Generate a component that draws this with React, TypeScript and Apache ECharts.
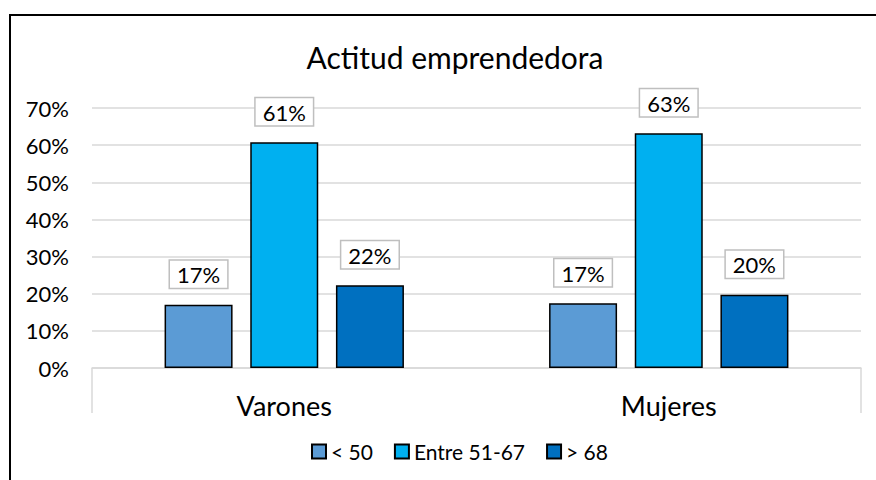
import React, { useEffect, useRef } from "react";
import * as echarts from "echarts";

const title = "Actitud emprendedora";
const categories = ["Varones", "Mujeres"];
const seriesNames = ["< 50", "Entre 51-67", "> 68"];
const lt50 = [0.17, 0.174];
const mid = [0.608, 0.632];
const gt68 = [0.223, 0.197];
const colors = ["#5B9BD5", "#00B0F0", "#0070C0"];
const yTicks = { min: 0, max: 0.7, interval: 0.1 };

const FONT = "Lato";

export default function App() {
  const ref = useRef<HTMLDivElement>(null);
  useEffect(() => {
    if (!ref.current) return;
    const chart = echarts.init(ref.current, undefined, { renderer: "svg" });
    const values = [lt50, mid, gt68];
    const labelStyle = {
      show: true,
      position: "top",
      distance: 17,
      formatter: (p: any) => Math.round(p.value * 100) + "%",
      backgroundColor: "#fff",
      borderColor: "#bfbfbf",
      borderWidth: 1.5,
      padding: [3, 7, 2, 7],
      fontSize: 22,
      fontFamily: FONT,
      color: "#000",
    };
    chart.setOption({
      animation: false,
      textStyle: { fontFamily: FONT },
      title: {
        text: title,
        left: 450,
        textAlign: "center",
        top: 37,
        textStyle: { fontSize: 30, fontWeight: "normal", color: "#000", fontFamily: FONT },
      },
      legend: {
        left: 306,
        top: 436,
        icon: "rect",
        itemWidth: 14,
        itemHeight: 14,
        itemGap: 21,
        textStyle: { fontSize: 21, color: "#000", fontFamily: FONT },
        data: seriesNames,
      },
      grid: { left: 92, right: 15, top: 108, bottom: 112, containLabel: false },
      xAxis: [
        {
          type: "category",
          data: categories,
          axisTick: { show: false },
          axisLine: { lineStyle: { color: "#d9d9d9", width: 1.5 } },
          axisLabel: { fontSize: 27, color: "#000", margin: 24, fontFamily: FONT },
        },
        {
          type: "value",
          min: 0,
          max: 1,
          interval: 1,
          position: "bottom",
          axisLine: { show: false },
          axisTick: { show: true, length: 45, lineStyle: { color: "#d9d9d9", width: 1.5 } },
          axisLabel: { show: false },
          splitLine: { show: false },
        },
      ],
      yAxis: {
        type: "value",
        min: yTicks.min,
        max: yTicks.max,
        interval: yTicks.interval,
        axisLine: { show: false },
        axisTick: { show: false },
        splitLine: { lineStyle: { color: "#d9d9d9", width: 1.5 } },
        axisLabel: {
          formatter: (v: number) => Math.round(v * 100) + "%",
          fontSize: 22,
          color: "#000",
          margin: 23,
          fontFamily: FONT,
        },
      },
      series: seriesNames.map((name, i) => ({
        name,
        type: "bar",
        xAxisIndex: 0,
        data: values[i],
        barWidth: 68,
        barGap: "26%",
        itemStyle: { color: colors[i], borderColor: "#000", borderWidth: 1.5 },
        label: labelStyle,
      })),
      graphic: [
        {
          type: "rect",
          shape: { x: 10, y: 15, width: 900, height: 500 },
          style: { fill: "none", stroke: "#000", lineWidth: 2 },
          silent: true,
        },
      ],
    });
    return () => chart.dispose();
  }, []);
  return (
    <div
      ref={ref}
      style={{ position: "absolute", left: 0, top: 0, width: 876, height: 480, background: "#fff" }}
    />
  );
}
